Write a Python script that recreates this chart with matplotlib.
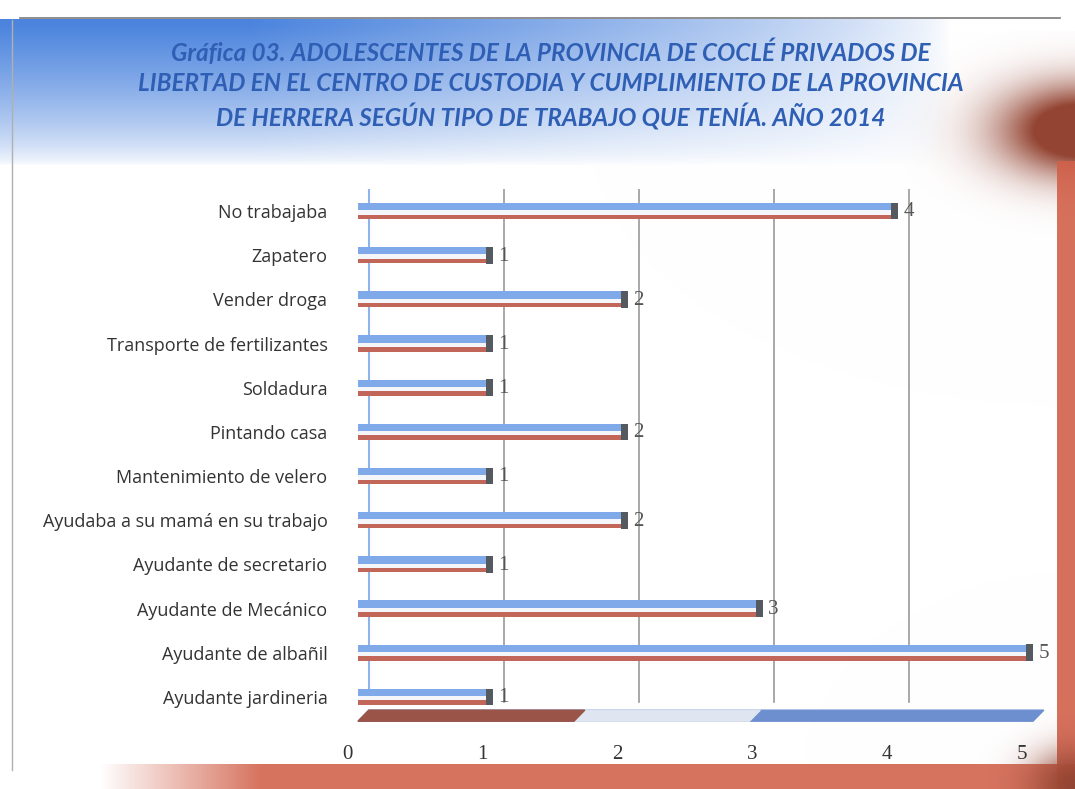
import numpy as np
import matplotlib
matplotlib.use("Agg")
import matplotlib.pyplot as plt
import matplotlib.transforms as mtransforms

# data (top to bottom as in the chart)
categories = ["No trabajaba", "Zapatero", "Vender droga", "Transporte de fertilizantes",
              "Soldadura", "Pintando casa", "Mantenimiento de velero",
              "Ayudaba a su mamá en su trabajo", "Ayudante de secretario",
              "Ayudante de Mecánico", "Ayudante de albañil", "Ayudante jardineria"]
values = [4, 1, 2, 1, 1, 2, 1, 2, 1, 3, 5, 1]
ticks = [0, 1, 2, 3, 4, 5]

title = ("Gráfica 03. ADOLESCENTES DE LA PROVINCIA DE COCLÉ PRIVADOS DE\n"
         "LIBERTAD EN EL CENTRO DE CUSTODIA Y CUMPLIMIENTO DE LA PROVINCIA\n"
         "DE HERRERA SEGÚN TIPO DE TRABAJO QUE TENÍA. AÑO 2014")

W, H = 1075, 789
fig = plt.figure(figsize=(W / 100, H / 100), dpi=100)

# decorative background (blue top band, red right/bottom border)
yy, xx = np.mgrid[0:H, 0:W].astype(float)
img = np.ones((H, W, 3))

def blend(mask, color):
    global img
    m = np.clip(mask, 0, 1)[..., None]
    img = img * (1 - m) + np.array(color)[None, None, :] * m

blue = (0.30, 0.52, 0.87)
red = (0.82, 0.38, 0.29)
dark = (0.58, 0.27, 0.20)
top = np.clip((165 - yy) / 140, 0, 1) * np.clip((950 - xx) / 700, 0, 1) * (yy > 18)
blend(top ** 0.7, blue)
corner = np.exp(-(((xx - 1080) / 80) ** 2 + ((yy - 130) / 45) ** 2)) * (yy > 30)
blend(corner * 1.4, dark)
right = (xx > 1056) * (yy > 160)
blend(right * 0.9, red)
bottom = (yy > 763) * np.clip((xx - 100) / 160, 0, 1)
blend(bottom * 0.88, red)
blend(np.exp(-(((xx - 1075) / 45) ** 2 + ((yy - 785) / 35) ** 2)), dark)
bg = fig.add_axes([0, 0, 1, 1])
bg.imshow(img, aspect="auto", extent=[0, W, H, 0])
bg.plot([12, 12], [20, 770], color="#b0b0b0", lw=1)
bg.plot([20, 1060], [18, 18], color="#7a7a7a", lw=1.2)
bg.set_xlim(0, W)
bg.set_ylim(H, 0)
bg.axis("off")

fig.text(0.512, 0.893, title, ha="center", va="center", color="#2f5fb5",
         fontsize=17.5, fontweight="bold", fontstyle="italic", family="Lato",
         linespacing=1.35)

ax = fig.add_axes([358 / W, 70 / H, 675 / W, 530 / H])
ax.patch.set_alpha(0)
y = np.arange(len(categories))
ax.set_xlim(0, 5)
ax.set_ylim(len(categories) - 0.5, -0.5)

# back wall gridlines, shifted for the 3D look
shift = mtransforms.offset_copy(ax.transData, fig=fig, x=11, y=6, units="dots")
for t in ticks[1:]:
    ax.plot([t, t], [-0.75, 11.25], color="#9a9a9a", lw=1.2, transform=shift, zorder=1)
ax.plot([0, 0], [-0.75, 11.25], color="#8fb4ec", lw=1.5, transform=shift, zorder=1)

# floor
floor_y = [11.55, 11.55, 11.3, 11.3]
ax.fill([0, 5, 5.08, 0.08], floor_y, color="#6d8fd0", clip_on=False, zorder=1)
ax.fill([1.6, 2.9, 2.98, 1.68], floor_y, color="#dfe6f2", clip_on=False, zorder=1)
ax.fill([0, 1.6, 1.68, 0.08], floor_y, color="#9a5448", clip_on=False, zorder=1)

# cylinders: blue top, white middle, red bottom
ax.barh(y - 0.1, values, height=0.17, color="#7fa9e8", zorder=3)
ax.barh(y + 0.03, values, height=0.1, color="#f4f6fa", zorder=3)
ax.barh(y + 0.13, values, height=0.1, color="#c2665a", zorder=3)
ax.barh(y, [0.05] * len(values), left=np.array(values) - 0.05, height=0.38,
        color="#555a60", zorder=4)
for yi, v in zip(y, values):
    ax.text(v + 0.04, yi + 0.02, str(v), va="center", ha="left", fontsize=15,
            family="Liberation Serif", color="#555555", zorder=5)

ax.set_yticks(y)
ax.set_yticklabels(categories, fontsize=13, family="Open Sans", color="#333333")
ax.set_xticks(ticks)
ax.set_xticklabels([str(t) for t in ticks], fontsize=15, family="Liberation Serif",
                   color="#333333")
ax.tick_params(axis="y", length=0, pad=22)
ax.tick_params(axis="x", length=0, pad=19)
for lab in ax.get_xticklabels():
    lab.set_transform(lab.get_transform() + mtransforms.ScaledTranslation(-0.11, 0, fig.dpi_scale_trans))
for s in ax.spines.values():
    s.set_visible(False)

fig.savefig("out.png", dpi=100)
